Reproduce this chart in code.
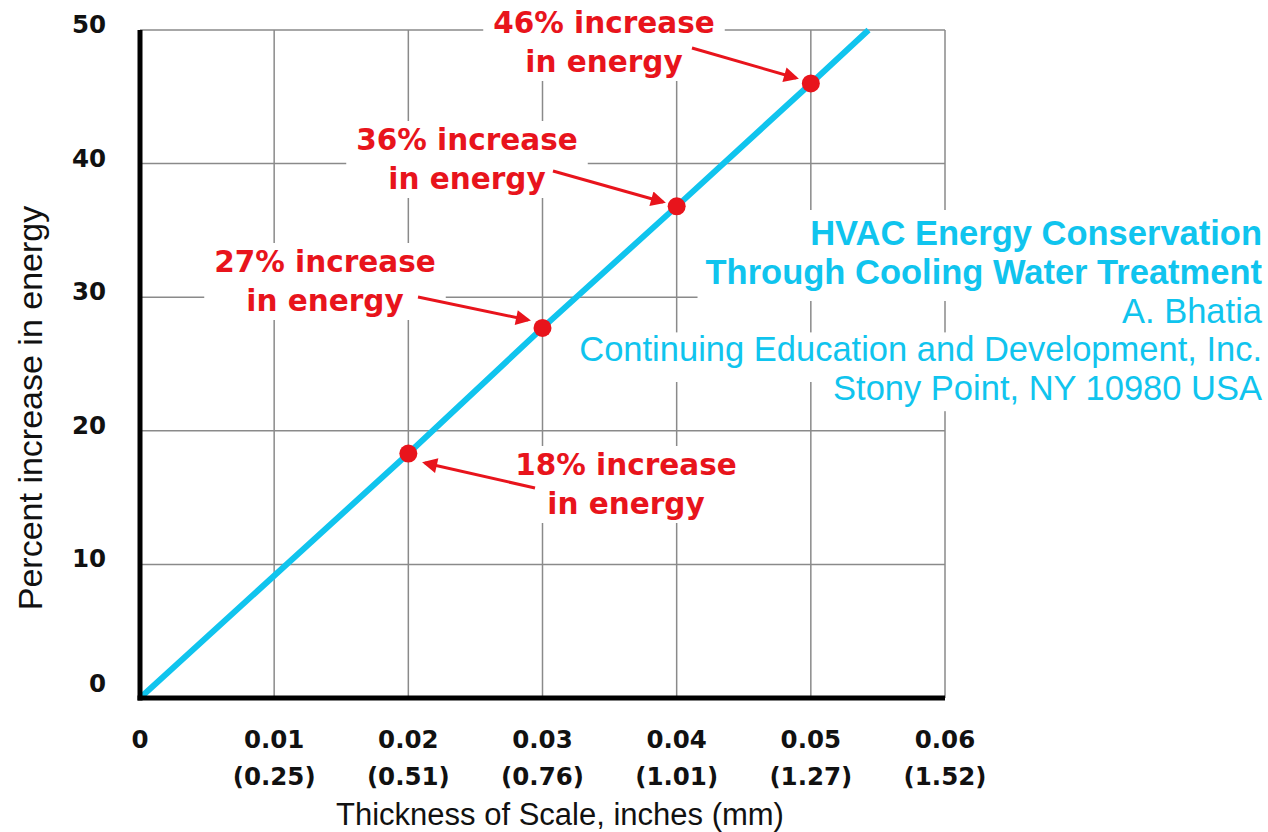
<!DOCTYPE html>
<html>
<head>
<meta charset="utf-8">
<script src="https://cdn.jsdelivr.net/npm/d3@7"></script>
<style>
  body { margin: 0; background: #fff; }
  svg { display: block; }
</style>
</head>
<body>
<div id="chart"></div>
<script>
"use strict";

// values
const thickness = [0, 0.02, 0.03, 0.04, 0.05, 0.0543];
const increase = [0, 18.3, 27.7, 36.8, 46, 50];
const markedThickness = [0.02, 0.03, 0.04, 0.05];
const markedIncrease = [18.3, 27.7, 36.8, 46];
const xTicks = [0, 0.01, 0.02, 0.03, 0.04, 0.05, 0.06];
const xTickInches = ["0", "0.01", "0.02", "0.03", "0.04", "0.05", "0.06"];
const xTickMm = ["", "(0.25)", "(0.51)", "(0.76)", "(1.01)", "(1.27)", "(1.52)"];
const yTicks = [0, 10, 20, 30, 40, 50];
const noteLines = [
    ["18% increase", "in energy"],
    ["27% increase", "in energy"],
    ["36% increase", "in energy"],
    ["46% increase", "in energy"],
];
const creditLines = [
    "HVAC Energy Conservation",
    "Through Cooling Water Treatment",
    "A. Bhatia",
    "Continuing Education and Development, Inc.",
    "Stony Point, NY 10980 USA",
];

const svgWidth = 1268;
const svgHeight = 832;
const margin = { top: 30, right: 323, bottom: 134, left: 140 };
const cyan = "#10c4ee";
const red = "#e8141c";
const boldFont = "'DejaVu Sans', sans-serif";
const plainFont = "'Liberation Sans', Arial, sans-serif";

const svg = d3
    .select("#chart")
    .append("svg")
    .attr("width", svgWidth)
    .attr("height", svgHeight);

const xScale = d3
    .scaleLinear()
    .domain([0, 0.06])
    .range([margin.left, svgWidth - margin.right]);

const yScale = d3
    .scaleLinear()
    .domain([0, 50])
    .range([svgHeight - margin.bottom, margin.top]);

// grid
const grid = svg.append("g").attr("stroke", "#8a8a8a").attr("stroke-width", 1.5);
grid.selectAll(".vgrid")
    .data(xTicks.slice(1))
    .enter()
    .append("line")
    .attr("x1", d => xScale(d))
    .attr("x2", d => xScale(d))
    .attr("y1", yScale(0))
    .attr("y2", yScale(50));
grid.selectAll(".hgrid")
    .data(yTicks.slice(1))
    .enter()
    .append("line")
    .attr("x1", xScale(0))
    .attr("x2", xScale(0.06))
    .attr("y1", d => yScale(d))
    .attr("y2", d => yScale(d));

// credit block; white patches behind it hide the grid
const credit = svg.append("g");
const creditBacks = credit.append("g").attr("fill", "#fff");
const creditText = credit
    .append("text")
    .attr("text-anchor", "end")
    .attr("fill", cyan)
    .style("font-family", plainFont)
    .style("font-size", "34.5px");
const spans = creditLines.map((line, i) =>
    creditText
        .append("tspan")
        .attr("x", 1262)
        .attr("y", 245 + i * 38.8)
        .style("font-weight", i < 2 ? "bold" : "normal")
        .text(line)
);
const boxes = spans.map(s => s.node().getBBox());
const patch = (x, y0, y1) =>
    creditBacks.append("rect")
        .attr("x", x)
        .attr("y", y0)
        .attr("width", svgWidth - x)
        .attr("height", y1 - y0);
patch(Math.min(boxes[0].x, boxes[1].x) - 8, boxes[0].y - 4, 301);
patch(boxes[2].x - 8, 301, boxes[2].y + boxes[2].height);
patch(boxes[3].x - 8, boxes[3].y + 2, 382);
patch(boxes[4].x - 8, 382, boxes[4].y + boxes[4].height + 4);

// annotations
const notePos = [
    { x: 626, y: 475, from: [535, 488], to: [425, 463] },
    { x: 325, y: 272, from: [418, 297], to: [528, 320] },
    { x: 467, y: 150, from: [553, 171], to: [663, 202] },
    { x: 604, y: 33, from: [692, 48], to: [796, 78] },
];

svg.append("defs")
    .append("marker")
    .attr("id", "head")
    .attr("viewBox", "0 0 10 10")
    .attr("refX", 8)
    .attr("refY", 5)
    .attr("markerWidth", 6)
    .attr("markerHeight", 5)
    .attr("orient", "auto")
    .attr("markerUnits", "strokeWidth")
    .append("path")
    .attr("d", "M0,0 L10,5 L0,10 Z")
    .attr("fill", red);

noteLines.forEach((lines, i) => {
    const p = notePos[i];
    const g = svg.append("g");
    const back = g.append("rect").attr("fill", "#fff");
    const t = g
        .append("text")
        .attr("text-anchor", "middle")
        .attr("fill", red)
        .style("font-family", boldFont)
        .style("font-weight", "bold")
        .style("font-size", "29.5px");
    lines.forEach((line, j) => {
        t.append("tspan")
            .attr("x", p.x)
            .attr("y", p.y + j * 39)
            .text(line);
    });
    const b = t.node().getBBox();
    back.attr("x", b.x - 10)
        .attr("y", b.y - 2)
        .attr("width", b.width + 20)
        .attr("height", b.height + 4);
    g.append("line")
        .attr("x1", p.from[0])
        .attr("y1", p.from[1])
        .attr("x2", p.to[0])
        .attr("y2", p.to[1])
        .attr("stroke", red)
        .attr("stroke-width", 3)
        .attr("marker-end", "url(#head)");
});

// the curve
const line = d3
    .line()
    .x(d => xScale(d[0]))
    .y(d => yScale(d[1]));

svg.append("path")
    .datum(thickness.map((t, i) => [t, increase[i]]))
    .attr("d", line)
    .attr("fill", "none")
    .attr("stroke", cyan)
    .attr("stroke-width", 6);

svg.selectAll(".dot")
    .data(markedThickness)
    .enter()
    .append("circle")
    .attr("class", "dot")
    .attr("cx", d => xScale(d))
    .attr("cy", (_, i) => yScale(markedIncrease[i]))
    .attr("r", 9)
    .attr("fill", red);

// axes lines
svg.append("line")
    .attr("x1", xScale(0))
    .attr("x2", xScale(0))
    .attr("y1", yScale(50))
    .attr("y2", yScale(0) + 2.5)
    .attr("stroke", "#000")
    .attr("stroke-width", 5);
svg.append("line")
    .attr("x1", xScale(0) - 2.5)
    .attr("x2", xScale(0.06))
    .attr("y1", yScale(0))
    .attr("y2", yScale(0))
    .attr("stroke", "#000")
    .attr("stroke-width", 5);

// tick labels
const xLab = svg.append("g")
    .style("font-family", boldFont)
    .style("font-weight", "bold")
    .style("font-size", "24.5px")
    .attr("text-anchor", "middle")
    .attr("fill", "#111");
xTicks.forEach((d, i) => {
    xLab.append("text").attr("x", xScale(d)).attr("y", 748).text(xTickInches[i]);
    xLab.append("text").attr("x", xScale(d)).attr("y", 785).text(xTickMm[i]);
});

svg.append("g")
    .style("font-family", boldFont)
    .style("font-weight", "bold")
    .style("font-size", "24.5px")
    .attr("text-anchor", "end")
    .attr("fill", "#111")
    .selectAll("text")
    .data(yTicks)
    .enter()
    .append("text")
    .attr("x", 106)
    .attr("y", d => yScale(d) + (d === 0 ? -6 : 3))
    .text(d => d);

// axis titles
svg.append("text")
    .attr("x", 560)
    .attr("y", 825)
    .attr("text-anchor", "middle")
    .style("font-family", plainFont)
    .style("font-size", "31px")
    .attr("fill", "#111")
    .text("Thickness of Scale, inches (mm)");

svg.append("text")
    .attr("transform", "translate(42,408) rotate(-90)")
    .attr("text-anchor", "middle")
    .style("font-family", plainFont)
    .style("font-size", "34px")
    .attr("fill", "#111")
    .text("Percent increase in energy");
</script>
</body>
</html>
